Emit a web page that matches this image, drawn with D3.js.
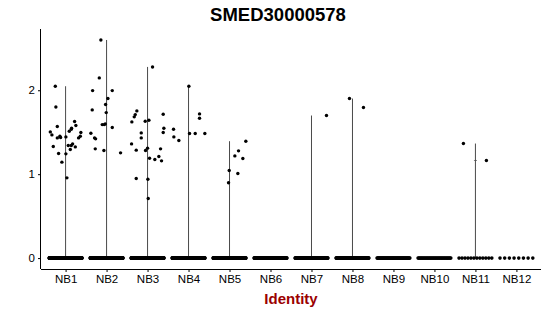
<!DOCTYPE html>
<html>
<head>
<meta charset="utf-8">
<script src="https://d3js.org/d3.v7.min.js"></script>
<style>
  body { margin: 0; background: #fff; }
  svg { font-family: "Liberation Sans", Arial, sans-serif; }
</style>
</head>
<body>
<svg id="chart" width="550" height="316"></svg>
<script>
  // groups on the x axis
  const groups = ["NB1","NB2","NB3","NB4","NB5","NB6","NB7","NB8","NB9","NB10","NB11","NB12"]
  // how many cells sit at exactly 0 in each group (approx, read from the blob density)
  const zeroCounts = [300, 260, 260, 220, 200, 150, 130, 120, 60, 40, 12, 8]
  // non-zero cells per group: [jitter offset (band units), expression]
  const nb1 = [[-0.373,1.504],[-0.334,1.468],[-0.30,1.330],[-0.251,2.048],[-0.237,1.801],[-0.202,1.568],
    [-0.202,1.432],[-0.171,1.246],[-0.139,1.452],[-0.122,1.437],[-0.09,1.143],[0.007,1.444],[0.007,1.242],
    [0.032,0.956],[0.066,1.342],[0.09,1.512],[0.115,1.294],[0.139,1.536],[0.139,1.342],[0.146,1.548],
    [0.171,1.361],[0.22,1.627],[0.237,1.325],[0.251,1.580],[0.317,1.432],[0.359,1.452],[0.373,1.496]]
  const nb2 = [[-0.383,1.488],[-0.35,1.766],[-0.341,1.996],[-0.293,1.432],[-0.276,1.302],[-0.268,1.421],
    [-0.178,2.147],[-0.139,2.599],[-0.106,1.591],[-0.065,1.282],[-0.057,1.591],[-0.033,1.599],[-0.024,1.83],
    [-0.008,1.734],[0.033,1.901],[0.139,1.556],[0.139,1.996],[0.341,1.254]]
  const nb3 = [[0.122,2.278],[-0.261,1.754],[-0.30,1.710],[-0.325,1.683],[-0.383,1.623],[-0.057,1.631],
    [0.033,1.643],[0.382,1.714],[-0.154,1.492],[-0.154,1.432],[0.398,1.548],[0.382,1.496],[-0.39,1.361],
    [-0.276,1.286],[-0.049,1.282],[0,1.31],[0.317,1.302],[0.049,1.19],[0.178,1.175],[0.276,1.21],
    [0.341,1.159],[-0.276,0.949],[0.008,0.94],[0.016,0.71]]
  const nb4 = [[-0.366,1.536],[-0.358,1.444],[-0.236,1.401],[0.008,2.048],[0.024,1.484],[0.163,1.484],
    [0.268,1.718],[0.268,1.667],[0.398,1.484]]
  const nb5 = [[-0.008,1.044],[-0.024,0.897],[0.13,1.218],[0.22,1.278],[0.203,1.008],[0.325,1.187],[0.398,1.393]]
  const nb7 = [[0.366,1.699]]
  const nb8 = [[-0.073,1.901],[0.268,1.794]]
  const nb11 = [[-0.293,1.365],[0.268,1.163]]
  const nonZero = { NB1: nb1, NB2: nb2, NB3: nb3, NB4: nb4, NB5: nb5, NB7: nb7, NB8: nb8, NB11: nb11 }
  // visible shoulders on the violin outline
  const bumps = [["NB11", 1.163]]
  const yTicks = [0, 1, 2]

  const svg = d3.select("#chart")
  const margin = {top: 29, right: 9, bottom: 47, left: 41}
  const width = +svg.attr("width") - margin.left - margin.right
  const height = +svg.attr("height") - margin.top - margin.bottom

  const x = d3.scalePoint().domain(groups).range([0, width]).padding(0.6)
  const step = x.step()
  const yMax = 2.6
  const y = d3.scaleLinear().domain([-0.05 * yMax, yMax * 1.05]).range([height, 0])

  const g = svg.append("g").attr("transform", "translate(" + margin.left + "," + margin.top + ")")

  // violins: practically a spike from 0 to the max (density is dominated by zeros)
  groups.forEach(grp => {
    const pts = nonZero[grp] || []
    if (!pts.length) return
    const cx = x(grp)
    const top = d3.max(pts, d => d[1])
    g.append("line")
      .attr("x1", cx).attr("x2", cx)
      .attr("y1", y(0)).attr("y2", y(top))
      .attr("stroke", "#4a4a4a").attr("stroke-width", 1)
    g.append("line")
      .attr("x1", cx - 0.4 * step).attr("x2", cx + 0.4 * step)
      .attr("y1", y(0)).attr("y2", y(0))
      .attr("stroke", "#4a4a4a").attr("stroke-width", 1)
  })
  bumps.forEach(b => {
    g.append("line")
      .attr("x1", x(b[0]) - 1.5).attr("x2", x(b[0]) + 1.5)
      .attr("y1", y(b[1])).attr("y2", y(b[1]))
      .attr("stroke", "#4a4a4a").attr("stroke-width", 0.7)
  })

  // zero cells, spread across the jitter width
  groups.forEach((grp, i) => {
    const n = zeroCounts[i]
    const offs = d3.range(n).map(k => n === 1 ? 0 : -0.4 + 0.8 * k / (n - 1))
    g.selectAll(null)
      .data(offs).enter()
      .append("circle")
      .attr("cx", d => x(grp) + d * step)
      .attr("cy", y(0))
      .attr("r", 1.8)
      .attr("fill", "#000")
  })

  // expressing cells
  groups.forEach(grp => {
    g.selectAll(null)
      .data(nonZero[grp] || []).enter()
      .append("circle")
      .attr("cx", d => x(grp) + d[0] * step)
      .attr("cy", d => y(d[1]))
      .attr("r", 1.7)
      .attr("fill", "#000")
  })

  // axes
  const xAxis = g.append("g")
    .attr("transform", "translate(0," + height + ")")
    .call(d3.axisBottom(x).tickSize(3).tickPadding(3).tickSizeOuter(0))
  const yAxis = g.append("g")
    .call(d3.axisLeft(y).tickValues(yTicks).tickFormat(d3.format("d")).tickSize(3).tickPadding(3).tickSizeOuter(0))
  ;[xAxis, yAxis].forEach(a => {
    a.select(".domain").attr("stroke", "#000").attr("stroke-width", 1)
    a.selectAll(".tick line").attr("stroke", "#000")
    a.selectAll("text").attr("fill", "#000").style("font-size", "11.5px")
  })
  xAxis.select(".domain").attr("d", "M0,0.5H" + width)
  yAxis.select(".domain").attr("d", "M-0.5,0V" + height)

  // titles
  svg.append("text")
    .attr("x", 278).attr("y", 21)
    .attr("text-anchor", "middle")
    .style("font-size", "18.5px").style("font-weight", "bold")
    .text("SMED30000578")
  svg.append("text")
    .attr("x", margin.left + width / 2).attr("y", 304)
    .attr("text-anchor", "middle")
    .attr("fill", "#9b0000")
    .style("font-size", "15px").style("font-weight", "bold")
    .text("Identity")
</script>
</body>
</html>
